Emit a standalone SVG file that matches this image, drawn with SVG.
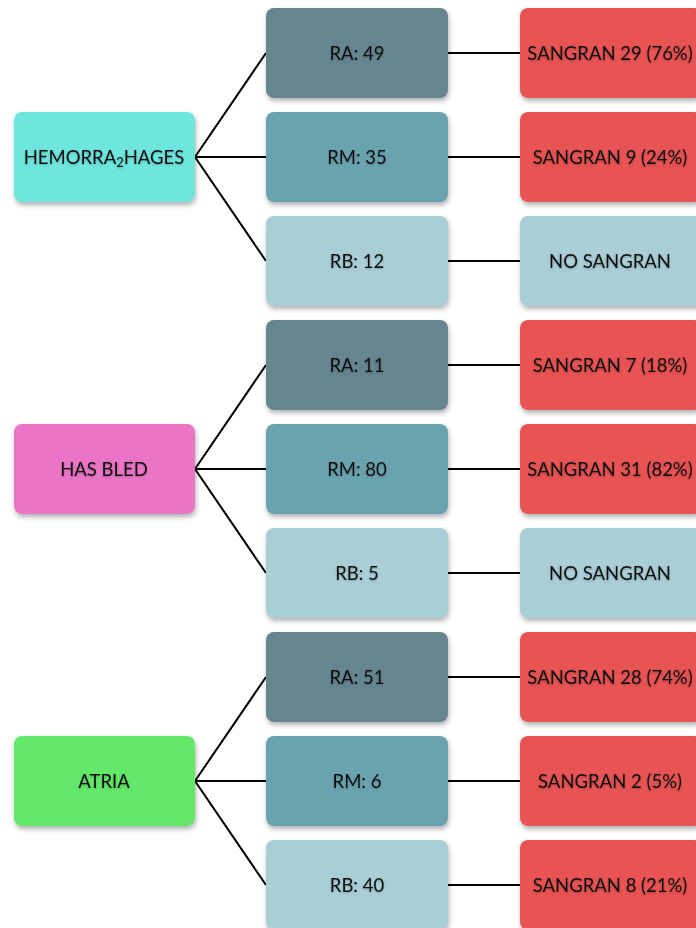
<svg xmlns="http://www.w3.org/2000/svg" width="696" height="928" viewBox="0 0 696 928">
<defs>
<filter id="sh" x="-10%" y="-10%" width="125%" height="130%">
<feDropShadow dx="1" dy="3" stdDeviation="2.5" flood-color="#000" flood-opacity="0.3"/>
</filter>
<filter id="tsh" x="-5%" y="-20%" width="110%" height="150%">
<feDropShadow dx="0" dy="1" stdDeviation="1" flood-color="#000" flood-opacity="0.25"/>
</filter>
</defs>
<style>
.b{filter:url(#sh)}
.t{font-family:Lato,"Open Sans","Liberation Sans",sans-serif;font-size:18.5px;fill:#111;text-anchor:middle;dominant-baseline:central;filter:url(#tsh)}
.c{stroke:#000;stroke-width:2;fill:none}
.hem{fill:#6ee6de}.hb{fill:#ea75c6}.at{fill:#63e86a}
.ra{fill:#658690}.rm{fill:#6aa3b0}.rb{fill:#a9ced6}.red{fill:#e85353}
</style>
<g id="connectors">
<path class="c" d="M195,157 L266,53 M195,157 L266,157 M195,157 L266,261"/>
<path class="c" d="M195,469 L266,365 M195,469 L266,469 M195,469 L266,573"/>
<path class="c" d="M195,781 L266,677 M195,781 L266,781 M195,781 L266,885"/>
<path class="c" d="M448,53 L520,53 M448,157 L520,157 M448,261 L520,261 M448,365 L520,365 M448,469 L520,469 M448,573 L520,573 M448,677 L520,677 M448,781 L520,781 M448,885 L520,885"/>
</g>
<g id="hemorrhages"><rect class="b hem" x="14" y="112" width="181" height="90" rx="8"/><text class="t" x="104" y="157">HEMORRA<tspan font-size="13" dy="5">2</tspan><tspan dy="-5">HAGES</tspan></text></g>
<g id="hasbled"><rect class="b hb" x="14" y="424" width="181" height="90" rx="8"/><text class="t" x="104" y="469">HAS BLED</text></g>
<g id="atria"><rect class="b at" x="14" y="736" width="181" height="90" rx="8"/><text class="t" x="104" y="781">ATRIA</text></g>

<g id="h-ra"><rect class="b ra" x="266" y="8" width="182" height="90" rx="8"/><text class="t" x="357" y="53">RA: 49</text></g>
<g id="h-rm"><rect class="b rm" x="266" y="112" width="182" height="90" rx="8"/><text class="t" x="357" y="157">RM: 35</text></g>
<g id="h-rb"><rect class="b rb" x="266" y="216" width="182" height="90" rx="8"/><text class="t" x="357" y="261">RB: 12</text></g>
<g id="b-ra"><rect class="b ra" x="266" y="320" width="182" height="90" rx="8"/><text class="t" x="357" y="365">RA: 11</text></g>
<g id="b-rm"><rect class="b rm" x="266" y="424" width="182" height="90" rx="8"/><text class="t" x="357" y="469">RM: 80</text></g>
<g id="b-rb"><rect class="b rb" x="266" y="528" width="182" height="90" rx="8"/><text class="t" x="357" y="573">RB: 5</text></g>
<g id="a-ra"><rect class="b ra" x="266" y="632" width="182" height="90" rx="8"/><text class="t" x="357" y="677">RA: 51</text></g>
<g id="a-rm"><rect class="b rm" x="266" y="736" width="182" height="90" rx="8"/><text class="t" x="357" y="781">RM: 6</text></g>
<g id="a-rb"><rect class="b rb" x="266" y="840" width="182" height="90" rx="8"/><text class="t" x="357" y="885">RB: 40</text></g>

<g id="h-s1"><rect class="b red" x="520" y="8" width="182" height="90" rx="8"/><text class="t" x="610" y="53">SANGRAN 29 (76%)</text></g>
<g id="h-s2"><rect class="b red" x="520" y="112" width="182" height="90" rx="8"/><text class="t" x="610" y="157">SANGRAN 9 (24%)</text></g>
<g id="h-s3"><rect class="b rb" x="520" y="216" width="182" height="90" rx="8"/><text class="t" x="610" y="261">NO SANGRAN</text></g>
<g id="b-s1"><rect class="b red" x="520" y="320" width="182" height="90" rx="8"/><text class="t" x="610" y="365">SANGRAN 7 (18%)</text></g>
<g id="b-s2"><rect class="b red" x="520" y="424" width="182" height="90" rx="8"/><text class="t" x="610" y="469">SANGRAN 31 (82%)</text></g>
<g id="b-s3"><rect class="b rb" x="520" y="528" width="182" height="90" rx="8"/><text class="t" x="610" y="573">NO SANGRAN</text></g>
<g id="a-s1"><rect class="b red" x="520" y="632" width="182" height="90" rx="8"/><text class="t" x="610" y="677">SANGRAN 28 (74%)</text></g>
<g id="a-s2"><rect class="b red" x="520" y="736" width="182" height="90" rx="8"/><text class="t" x="610" y="781">SANGRAN 2 (5%)</text></g>
<g id="a-s3"><rect class="b red" x="520" y="840" width="182" height="90" rx="8"/><text class="t" x="610" y="885">SANGRAN 8 (21%)</text></g>
</svg>
